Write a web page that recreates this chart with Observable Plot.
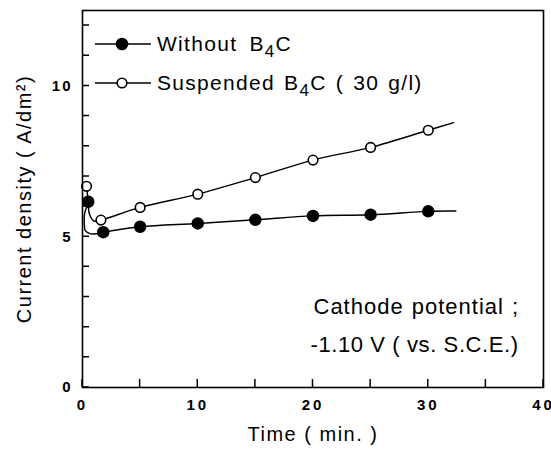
<!DOCTYPE html>
<html>
<head>
<meta charset="utf-8">
<script src="https://cdn.jsdelivr.net/npm/d3@7"></script>
<script src="https://cdn.jsdelivr.net/npm/@observablehq/plot@0.6"></script>
<style>
  html, body { margin: 0; padding: 0; background: #fff; }
  #wrap { width: 551px; height: 451px; }
</style>
</head>
<body>
<div id="wrap"></div>
<script>
// ---- data ----
const seriesNames = ["Without B4C", "Suspended B4C ( 30 g/l)"];

// measured points (markers)
const withoutTime = [0.5, 1.8, 5, 10, 15, 20, 25, 30];
const withoutCurrent = [6.16, 5.15, 5.33, 5.44, 5.56, 5.69, 5.73, 5.84];
const suspendedTime = [0.35, 1.6, 5, 10, 15, 20, 25, 30];
const suspendedCurrent = [6.67, 5.55, 5.97, 6.41, 6.96, 7.54, 7.96, 8.53];

// drawn curves (trace of the hand-drawn lines)
const withoutCurveTime = [0.45, 0.2, 0.17, 0.25, 0.65, 1.2, 1.8, 5, 10, 15, 20, 25, 30, 32.4];
const withoutCurveCurrent = [6.05, 5.8, 5.35, 5.2, 5.1, 5.1, 5.15, 5.33, 5.44, 5.56, 5.69, 5.73, 5.84, 5.85];
const suspendedCurveTime = [0.4, 0.5, 0.6, 1.0, 1.6, 5, 10, 15, 20, 25, 30, 32.2];
const suspendedCurveCurrent = [6.5, 6.15, 5.75, 5.52, 5.55, 5.97, 6.41, 6.96, 7.54, 7.96, 8.53, 8.78];

const xTicksMinor = [0, 5, 10, 15, 20, 25, 30, 35, 40];
const xTickLabels = [0, 10, 20, 30, 40];
const yTicksMinor = [0, 1, 2, 3, 4, 5, 6, 7, 8, 9, 10, 11, 12];
const yTickLabels = [0, 5, 10];

const xLabel = "Time ( min. )";
const yLabel = "Current density ( A/dm\u00B2)";
const noteLine1 = "Cathode potential ;";
const noteLine2 = "-1.10 V ( vs. S.C.E.)";

// ---- build tables ----
const withoutPts = withoutTime.map((t, i) => ({t, c: withoutCurrent[i]}));
const suspendedPts = suspendedTime.map((t, i) => ({t, c: suspendedCurrent[i]}));
const withoutCurve = withoutCurveTime.map((t, i) => ({t, c: withoutCurveCurrent[i]}));
const suspendedCurve = suspendedCurveTime.map((t, i) => ({t, c: suspendedCurveCurrent[i]}));

const FONT = "'Liberation Sans', Arial, sans-serif";
const W = 551, H = 451, ML = 82, MR = 8, MT = 10, MB = 64;

const chart = Plot.plot({
  width: W,
  height: H,
  marginLeft: ML,
  marginRight: MR,
  marginTop: MT,
  marginBottom: MB,
  style: {fontFamily: FONT, background: "#fff", color: "#000"},
  x: {domain: [0, 40]},
  y: {domain: [0, 12.5]},
  marks: [
    // tick labels
    Plot.axisX({ticks: xTickLabels, tickSize: 0, tickPadding: 12, fontSize: 15, fontWeight: "bold", label: null}),
    Plot.axisY({ticks: yTickLabels, tickSize: 0, tickPadding: 10, fontSize: 15, fontWeight: "bold", label: null}),
    // titles
    Plot.axisX({ticks: [], tickSize: 0, label: xLabel, labelAnchor: "center", labelArrow: "none",
      labelOffset: 53, fontSize: 20}),
    Plot.axisY({ticks: [], tickSize: 0, label: yLabel, labelAnchor: "center", labelArrow: "none",
      labelOffset: 66, fontSize: 20}),
    // curves
    Plot.line(withoutCurve, {x: "t", y: "c", curve: "catmull-rom", stroke: "#000", strokeWidth: 1.4}),
    Plot.line(suspendedCurve, {x: "t", y: "c", curve: "catmull-rom", stroke: "#000", strokeWidth: 1.4}),
    // markers
    Plot.dot(withoutPts, {x: "t", y: "c", r: 5.5, fill: "#000", stroke: "#000"}),
    Plot.dot(suspendedPts, {x: "t", y: "c", r: 4.8, fill: "#fff", stroke: "#000", strokeWidth: 1.6}),
    // annotation
    Plot.text([noteLine1], {frameAnchor: "top-left", dx: 231, dy: 288, text: d => d, textAnchor: "start",
      fontSize: 22}),
    Plot.text([noteLine2], {frameAnchor: "top-left", dx: 228, dy: 326, text: d => d, textAnchor: "start",
      fontSize: 22}),
    Plot.frame({stroke: "#000", strokeWidth: 1.6})
  ]
});

// text styling
chart.querySelectorAll('[aria-label="x-axis label"] text, [aria-label="y-axis label"] text').forEach(t => {
  t.style.fontWeight = "normal";
  t.style.letterSpacing = "1.5px";
});
chart.querySelectorAll('[aria-label="x-axis tick label"] text').forEach(t => { t.style.letterSpacing = "3px"; });
chart.querySelectorAll('[aria-label="y-axis tick label"] text').forEach(t => { t.style.letterSpacing = "2px"; });
const notes = chart.querySelectorAll('[aria-label="text"] text');
notes.forEach((t, i) => {
  t.style.letterSpacing = i === 0 ? "1px" : "0.6px";
  t.style.wordSpacing = i === 0 ? "1px" : "0px";
});

const ns = "http://www.w3.org/2000/svg";
const mk = (tag, attrs) => {
  const e = document.createElementNS(ns, tag);
  for (const k in attrs) e.setAttribute(k, attrs[k]);
  return e;
};

// inward-pointing ticks placed with the chart's own scales (explicit stroke on each path)
const xs = chart.scale("x"), ys = chart.scale("y");
const yBottom = ys.apply(0), xLeft = xs.apply(0);
let d = "";
xTicksMinor.forEach(v => {
  const x = xs.apply(v);
  d += `M${x},${yBottom}V${yBottom - 8}`;
});
yTicksMinor.forEach(v => {
  const y = ys.apply(v);
  d += `M${xLeft},${y}H${xLeft + 7}`;
});
chart.appendChild(mk("path", {d, fill: "none", stroke: "#000", "stroke-width": 1.5, "aria-label": "inward ticks"}));

// legend (inside the plot area, top-left)
const leg = mk("g", {"aria-label": "legend", "text-anchor": "start"});
const rows = [
  {name: seriesNames[0], y: 44, filled: true, ws: 5},
  {name: seriesNames[1], y: 83, filled: false, ws: 2}
];
rows.forEach(r => {
  leg.appendChild(mk("line", {x1: 95, x2: 151, y1: r.y, y2: r.y, stroke: "#000", "stroke-width": 1.4}));
  leg.appendChild(mk("circle", {cx: 122, cy: r.y, r: r.filled ? 5.5 : 4.8,
    fill: r.filled ? "#000" : "#fff", stroke: "#000", "stroke-width": 1.6}));
  const tx = mk("text", {x: 157, y: r.y + 7, "font-size": 21, fill: "#000", "text-anchor": "start"});
  tx.style.letterSpacing = "1.3px";
  tx.style.wordSpacing = r.ws + "px";
  const parts = r.name.split("B4C");
  const t1 = mk("tspan", {}); t1.textContent = parts[0] + "B"; tx.appendChild(t1);
  const t2 = mk("tspan", {dy: 6, "font-size": 17}); t2.textContent = "4"; tx.appendChild(t2);
  const t3 = mk("tspan", {dy: -6}); t3.textContent = "C" + parts[1]; tx.appendChild(t3);
  leg.appendChild(tx);
});
chart.appendChild(leg);

document.getElementById("wrap").appendChild(chart);
</script>
</body>
</html>
